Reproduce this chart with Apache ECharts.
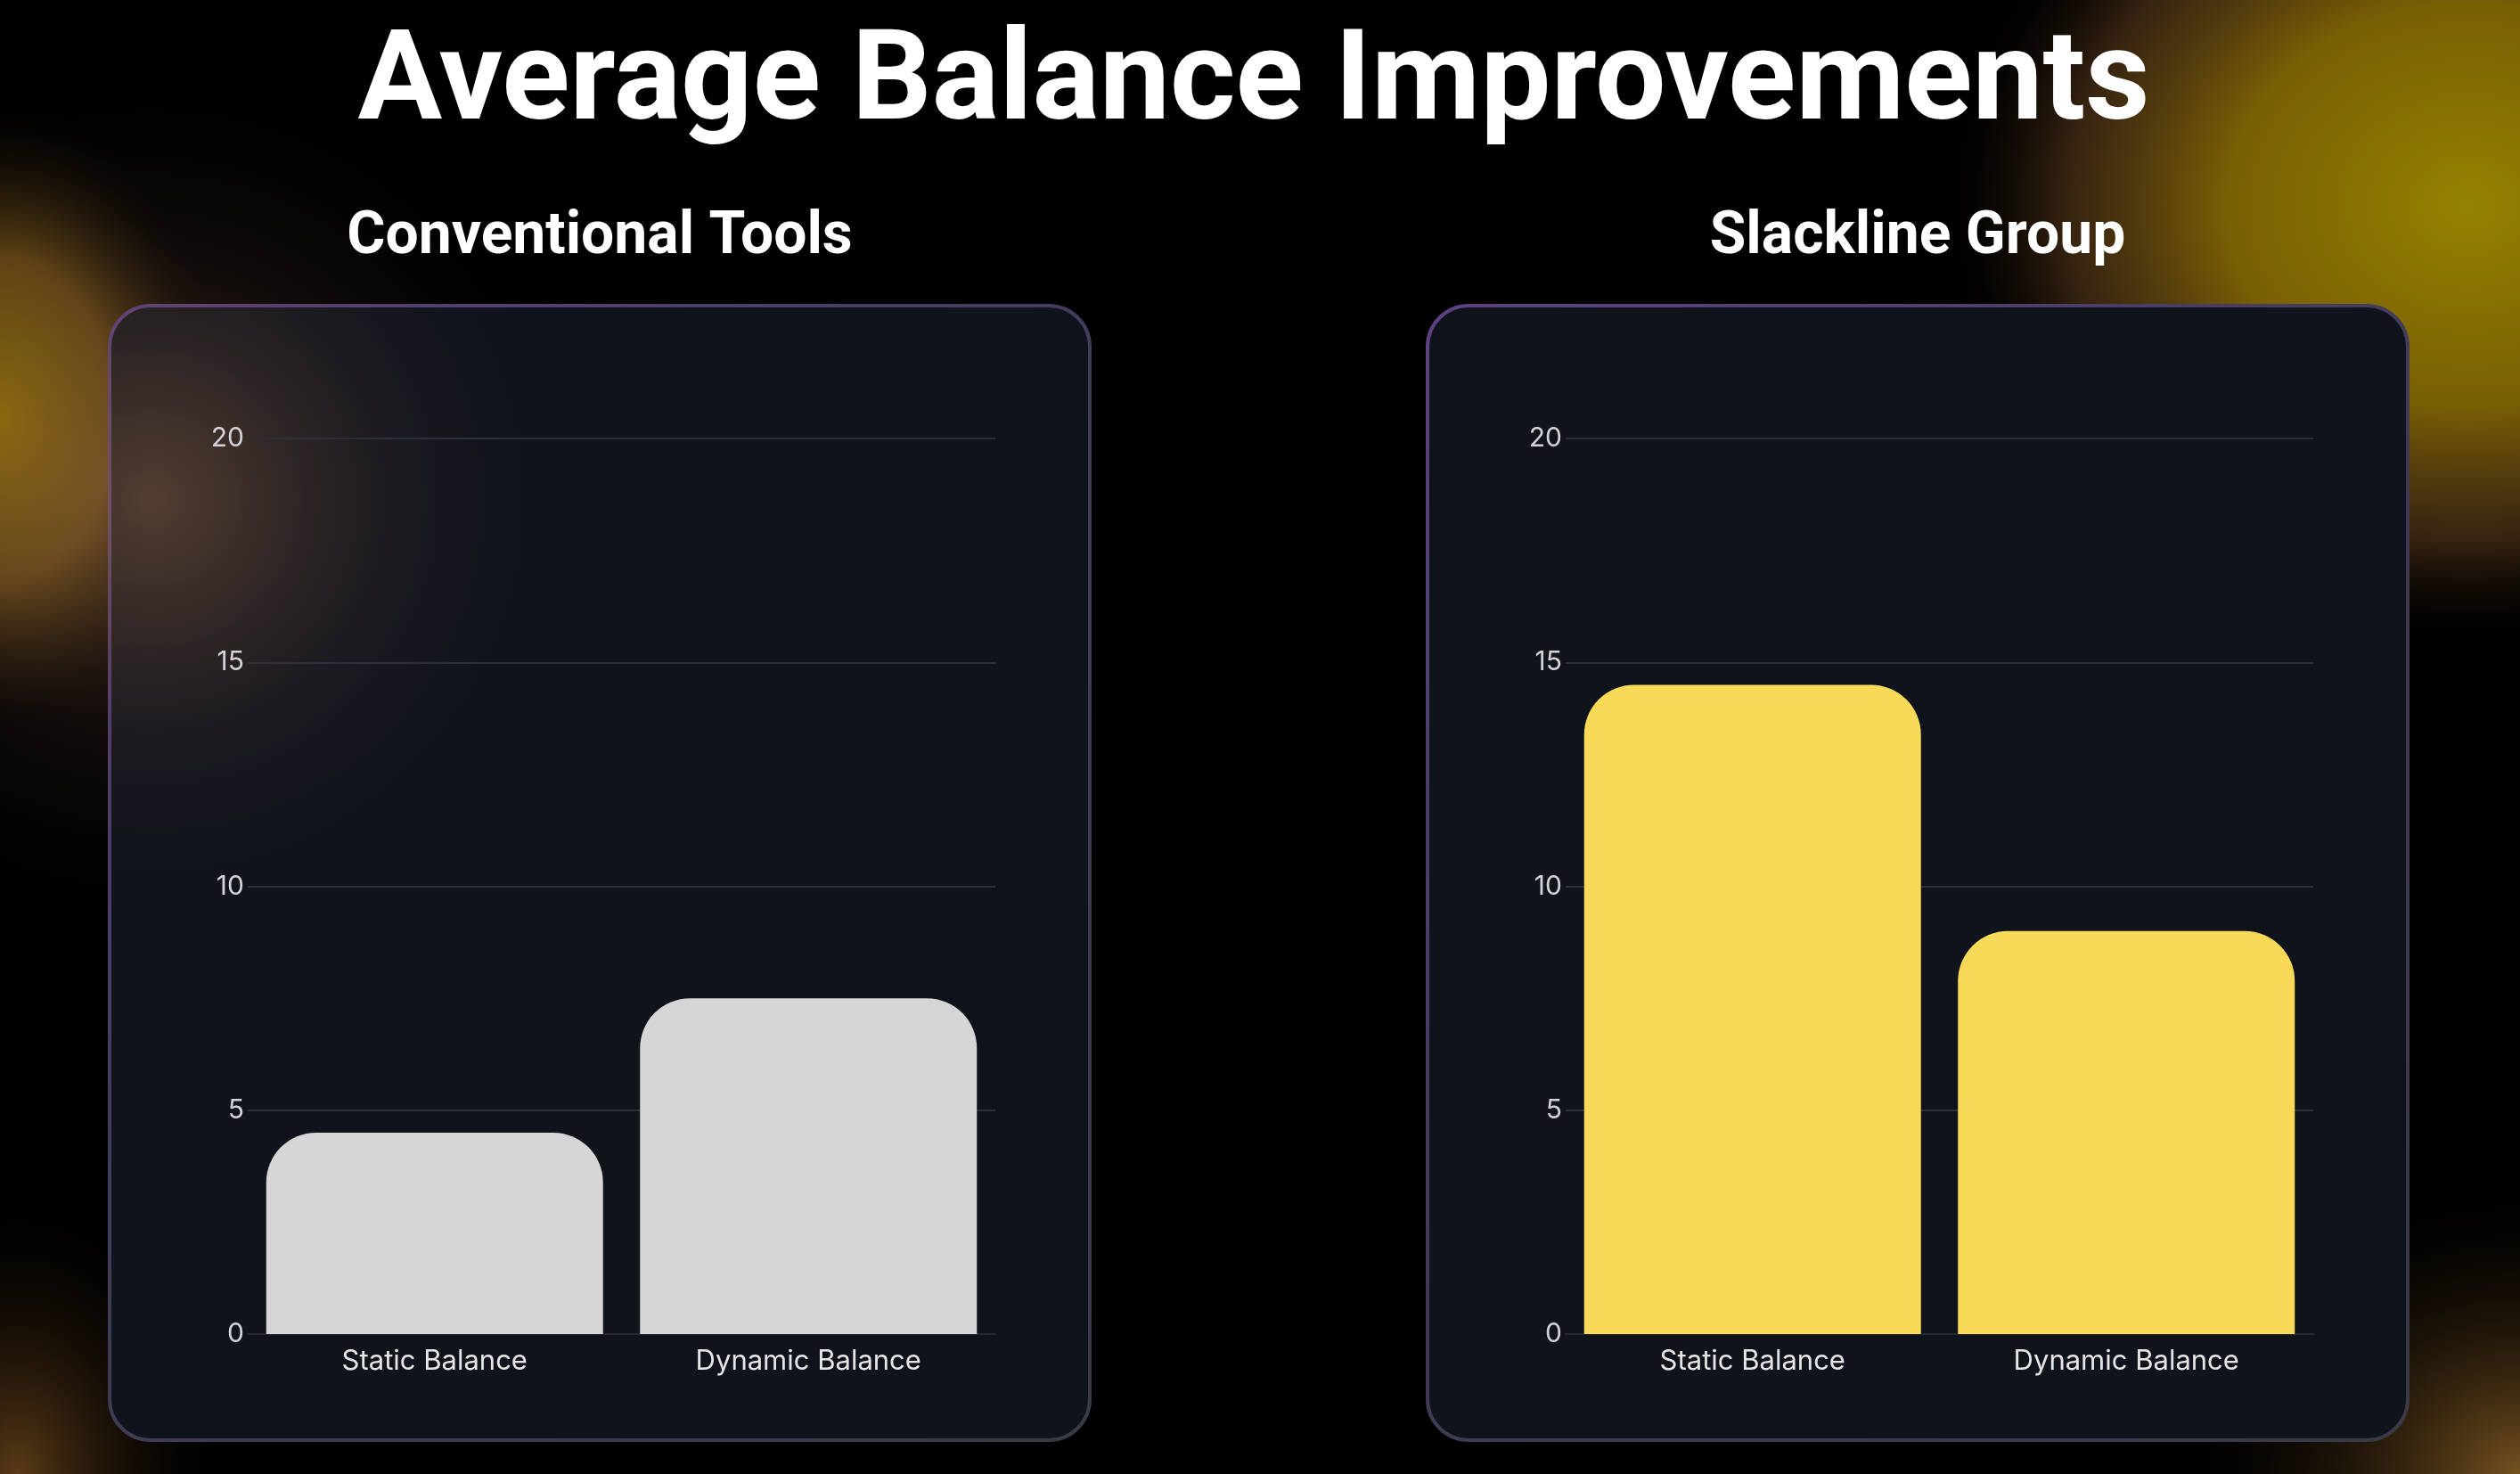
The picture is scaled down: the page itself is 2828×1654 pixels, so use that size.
<!DOCTYPE html>
<html>
<head>
<meta charset="utf-8">
<script src="https://cdn.jsdelivr.net/npm/echarts@6/dist/echarts.min.js"></script>
<style>
html,body{margin:0;padding:0;background:#000;}
#chart{width:2828px;height:1654px;}
</style>
</head>
<body>
<div id="chart"></div>
<script>
// ---- data ----
const mainTitle = 'Average Balance Improvements';
const panelTitles = ['Conventional Tools', 'Slackline Group'];
const categories = ['Static Balance', 'Dynamic Balance'];
const conventionalValues = [4.5, 7.5];
const slacklineValues = [14.5, 9];
const yMin = 0, yMax = 20, yInterval = 5;

// ---- styles ----
const W = 2828, H = 1654;
const barColors = ['#d6d6d6', '#f9da58'];
const labelFont = 'Inter';
const titleFont = 'Roboto';

function ellipseGlow(cx, cy, rx, ry, stops, z) {
  return {
    type: 'circle', silent: true, z: z,
    x: cx, y: cy, scaleX: rx / ry, scaleY: 1,
    shape: { cx: 0, cy: 0, r: ry },
    style: { fill: new echarts.graphic.RadialGradient(0.5, 0.5, 0.5, stops) }
  };
}
function panel(x, y, w, h) {
  return {
    type: 'rect', silent: true, z: -50,
    shape: { x: x, y: y, width: w, height: h, r: 46 },
    style: {
      fill: '#0f131c',
      stroke: new echarts.graphic.LinearGradient(0, 0, 1, 1, [
        { offset: 0, color: '#5e4184' },
        { offset: 0.5, color: '#3f3b55' },
        { offset: 1, color: '#3a3a46' }
      ]),
      lineWidth: 4
    }
  };
}

const grids = [
  { left: 278, width: 839, top: 492, bottom: H - 1497 },
  { left: 1757, width: 839, top: 492, bottom: H - 1497 }
];

function xAxisFor(i) {
  return {
    type: 'category', gridIndex: i, data: categories,
    axisLine: { show: true, lineStyle: { color: '#232834', width: 2 } },
    axisTick: { show: false },
    axisLabel: { color: '#e6e6e6', fontSize: 31, fontFamily: labelFont, margin: 15 }
  };
}
function yAxisFor(i) {
  return {
    type: 'value', gridIndex: i, min: yMin, max: yMax, interval: yInterval,
    axisLine: { show: false }, axisTick: { show: false },
    axisLabel: { color: '#d4d2d8', fontSize: 30, fontFamily: labelFont, margin: 4 },
    splitLine: { lineStyle: { color: '#2c303a', width: 2 } }
  };
}

const option = {
  backgroundColor: '#000',
  animation: false,
  grid: grids,
  xAxis: [xAxisFor(0), xAxisFor(1)],
  yAxis: [yAxisFor(0), yAxisFor(1)],
  series: [
    {
      type: 'bar', name: panelTitles[0], xAxisIndex: 0, yAxisIndex: 0,
      data: conventionalValues, barWidth: 378,
      itemStyle: { color: barColors[0], borderRadius: [56, 56, 0, 0] }
    },
    {
      type: 'bar', name: panelTitles[1], xAxisIndex: 1, yAxisIndex: 1,
      data: slacklineValues, barWidth: 378,
      itemStyle: { color: barColors[1], borderRadius: [56, 56, 0, 0] }
    }
  ],
  graphic: {
    elements: [
      // background glows
      ellipseGlow(2770, 230, 600, 500, [
        { offset: 0, color: 'rgba(150,130,0,1)' },
        { offset: 0.45, color: 'rgba(138,108,5,0.88)' },
        { offset: 0.75, color: 'rgba(100,65,30,0.55)' },
        { offset: 1, color: 'rgba(0,0,0,0)' }
      ], -100),
      ellipseGlow(0, 470, 260, 360, [
        { offset: 0, color: 'rgba(145,115,0,1)' },
        { offset: 0.5, color: 'rgba(120,85,20,0.8)' },
        { offset: 1, color: 'rgba(0,0,0,0)' }
      ], -100),
      ellipseGlow(20, 1654, 240, 330, [
        { offset: 0, color: 'rgba(100,65,25,0.9)' },
        { offset: 1, color: 'rgba(0,0,0,0)' }
      ], -100),
      ellipseGlow(2828, 1654, 400, 340, [
        { offset: 0, color: 'rgba(130,90,35,0.9)' },
        { offset: 1, color: 'rgba(0,0,0,0)' }
      ], -100),
      // panels
      panel(123, 343, 1100, 1273),
      panel(1602, 343, 1100, 1273),
      // glow over left panel
      ellipseGlow(170, 560, 480, 480, [
        { offset: 0, color: 'rgba(150,105,70,0.5)' },
        { offset: 0.3, color: 'rgba(125,85,60,0.33)' },
        { offset: 0.65, color: 'rgba(80,55,50,0.13)' },
        { offset: 1, color: 'rgba(40,30,40,0)' }
      ], -40),
      // titles
      {
        type: 'text', z: 10, x: 1407, y: 98, silent: true,
        style: { text: mainTitle, fill: '#ffffff', font: 'bold 141px "' + titleFont + '"', textAlign: 'center', textVerticalAlign: 'middle' }
      },
      {
        type: 'text', z: 10, x: 673, y: 267, silent: true,
        style: { text: panelTitles[0], fill: '#ffffff', font: 'bold 66px "' + titleFont + '"', textAlign: 'center', textVerticalAlign: 'middle' }
      },
      {
        type: 'text', z: 10, x: 2152, y: 267, silent: true,
        style: { text: panelTitles[1], fill: '#ffffff', font: 'bold 66px "' + titleFont + '"', textAlign: 'center', textVerticalAlign: 'middle' }
      }
    ]
  }
};

const chart = echarts.init(document.getElementById('chart'), null, { renderer: 'canvas', width: W, height: H });
chart.setOption(option);
</script>
</body>
</html>
